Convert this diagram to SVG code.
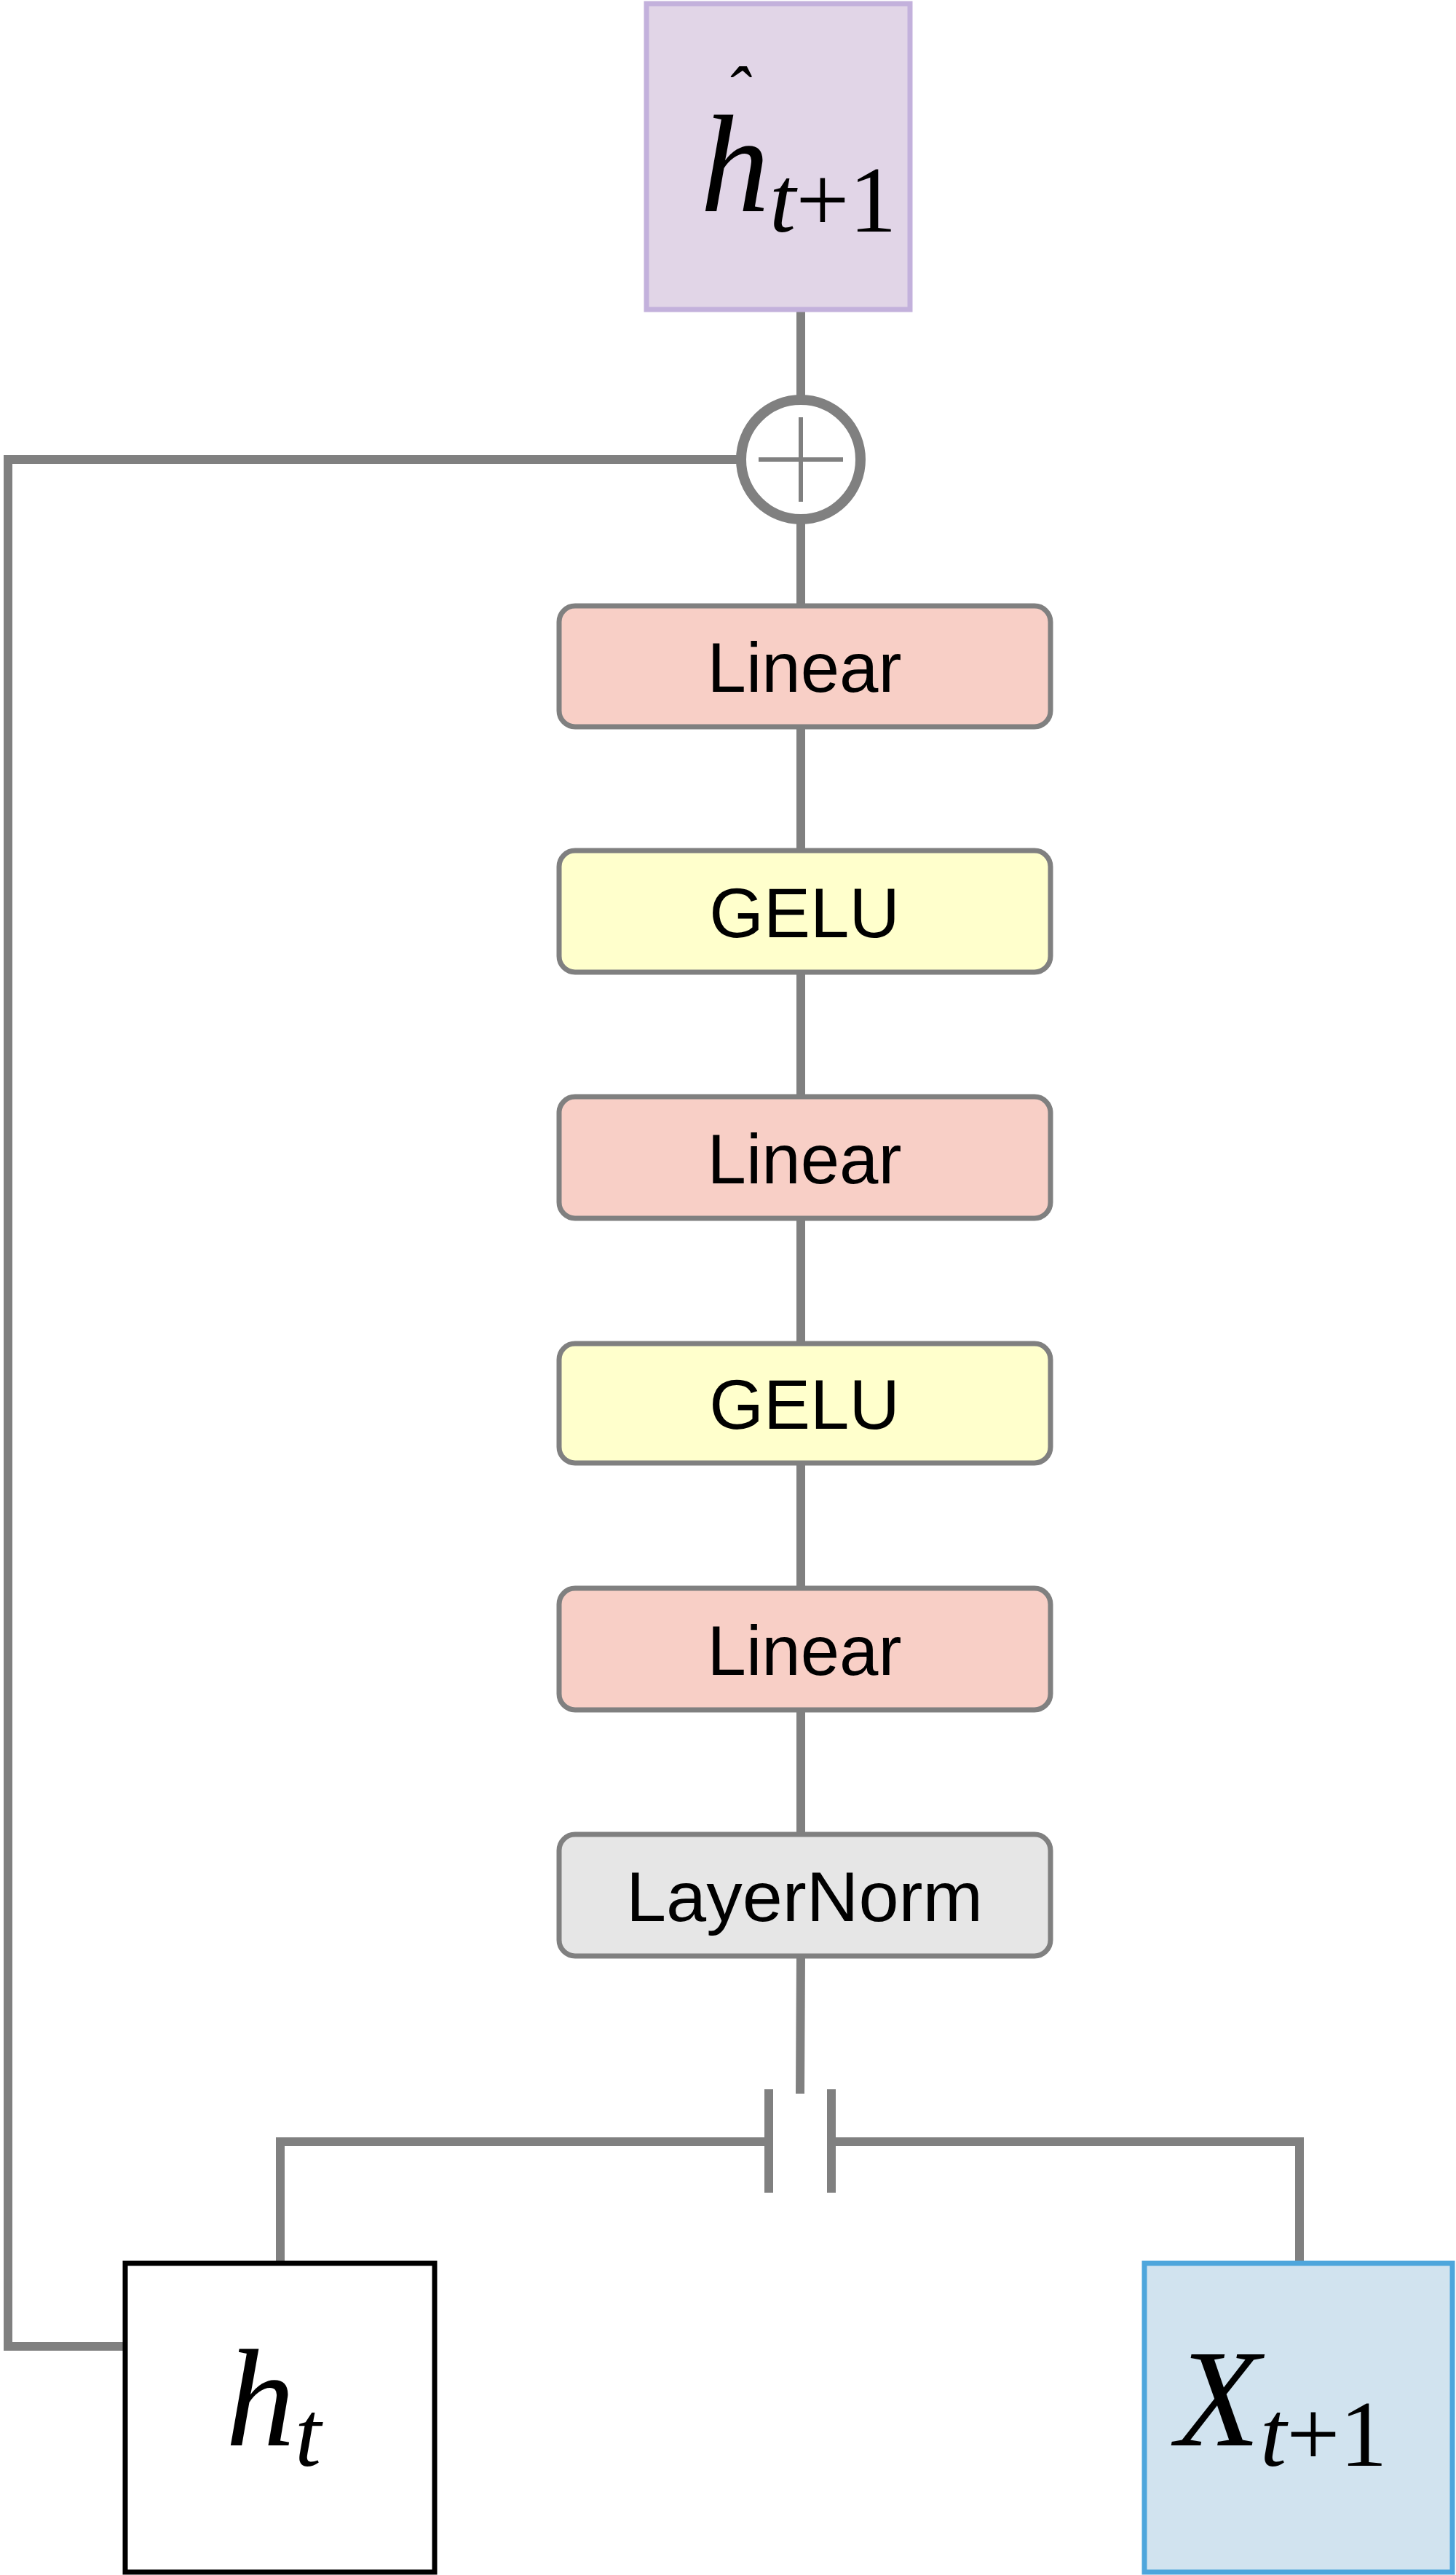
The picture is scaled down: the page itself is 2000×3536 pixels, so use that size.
<svg xmlns="http://www.w3.org/2000/svg" width="2000" height="3536" viewBox="0 0 2000 3536">
<style>
.c{stroke:#808080;stroke-width:12;fill:none}
.blk rect{stroke:#808080;stroke-width:7}
.lbl{font-family:"Liberation Sans",Arial,sans-serif;font-size:96px;text-anchor:middle;fill:#000}
.m{font-family:"Liberation Serif","Times New Roman",serif;font-style:italic;fill:#000}
.lin{fill:#f8cfc6}.gelu{fill:#ffffcc}.ln{fill:#e6e6e6}
</style>
<rect width="2000" height="3536" fill="#fff"/>
<g id="connectors">
<path class="c" d="M1100 425V545M1100 717V832M1100 998V1168M1100 1335V1506M1100 1673V1845M1100 2009V2181M1100 2348V2519M1100 2686L1099 2875"/>
<path class="c" d="M1014 631H11V3222H172"/>
<path class="c" d="M1056 2869V3011M1142 2869V3011"/>
<path class="c" d="M1056 2941H385V3108M1142 2941H1785V3108"/>
</g>
<g id="hhat"><rect x="888" y="5" width="362" height="420" fill="#e1d5e7" stroke="#c3b1dc" stroke-width="7"/>
<text class="m" x="962" y="290" font-size="190">h<tspan font-size="130" dy="28">t</tspan><tspan font-size="130" font-style="normal">+1</tspan></text>
<text class="m" x="1012" y="160" font-size="100" font-style="normal" text-anchor="middle">ˆ</text></g>
<g id="plus"><circle cx="1100" cy="631" r="82" fill="#fff" stroke="#808080" stroke-width="14"/><path d="M1100 573V689M1042 631H1158" stroke="#808080" stroke-width="6"/></g>
<g id="linear1" class="blk"><rect class="lin" x="768" y="832" width="675" height="166" rx="22"/><text class="lbl" x="1105" y="950">Linear</text></g>
<g id="gelu1" class="blk"><rect class="gelu" x="768" y="1168" width="675" height="167" rx="22"/><text class="lbl" x="1105" y="1287">GELU</text></g>
<g id="linear2" class="blk"><rect class="lin" x="768" y="1506" width="675" height="167" rx="22"/><text class="lbl" x="1105" y="1625">Linear</text></g>
<g id="gelu2" class="blk"><rect class="gelu" x="768" y="1845" width="675" height="164" rx="22"/><text class="lbl" x="1105" y="1962">GELU</text></g>
<g id="linear3" class="blk"><rect class="lin" x="768" y="2181" width="675" height="167" rx="22"/><text class="lbl" x="1105" y="2300">Linear</text></g>
<g id="layernorm" class="blk"><rect class="ln" x="768" y="2519" width="675" height="167" rx="22"/><text class="lbl" x="1105" y="2638" textLength="490" lengthAdjust="spacingAndGlyphs">LayerNorm</text></g>
<g id="ht"><rect x="172" y="3108" width="425" height="424" fill="#fff" stroke="#000" stroke-width="7"/>
<text class="m" x="310" y="3358" font-size="190">h<tspan font-size="130" dy="28">t</tspan></text></g>
<g id="xt1"><rect x="1572" y="3108" width="423" height="424" fill="#d1e3ef" stroke="#4ea6dc" stroke-width="7"/>
<text class="m" x="1615" y="3358" font-size="190">X<tspan font-size="130" dy="28">t</tspan><tspan font-size="130" font-style="normal">+1</tspan></text></g>
</svg>
